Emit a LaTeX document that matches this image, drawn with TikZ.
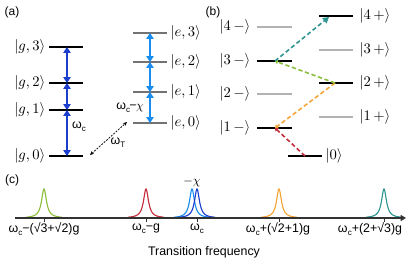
\documentclass[tikz,border=0pt]{standalone}
\usepackage{fontspec}
\newfontfamily\lsans{Liberation Sans}
\usetikzlibrary{arrows.meta}
\definecolor{dblue}{RGB}{28,62,205}
\definecolor{lblue}{RGB}{25,140,240}
\definecolor{cred}{RGB}{195,45,60}
\definecolor{corange}{RGB}{245,165,55}
\definecolor{cgreen}{RGB}{140,190,60}
\definecolor{cteal}{RGB}{45,150,145}
\definecolor{lgray}{RGB}{178,178,178}
\definecolor{egray}{RGB}{115,115,115}
\definecolor{axgray}{RGB}{50,50,50}
\newcommand{\wsub}[1]{ω\kern0.1pt\raisebox{-0.45ex}{\fontsize{6}{6}\selectfont #1}}
\newcommand{\lorpeak}[2]{\draw[#2, line width=0.85pt, domain=-18:18, samples=91, smooth] plot ({#1+\x}, {218 - 29*9/((\x)*(\x)+9)});}
\begin{document}
\begin{tikzpicture}[x=0.75pt,y=-0.75pt,
  glev/.style={black, line width=1.1pt},
  elev/.style={egray, line width=1.1pt},
  blk/.style={black, line width=1.1pt},
  gry/.style={lgray, line width=1.1pt},
  darr/.style={dblue, line width=1.8pt, {Triangle[length=4.4pt,width=5.4pt]}-{Triangle[length=4.4pt,width=5.4pt]}},
  larr/.style={lblue, line width=1.8pt, {Triangle[length=4.4pt,width=5.4pt]}-{Triangle[length=4.4pt,width=5.4pt]}},
  ladder/.style={line width=1.2pt, dash pattern=on 3.2pt off 2pt},
  bigtip/.style={-{Triangle[length=4.5pt,width=5pt]}},
  smalltip/.style={-{Triangle[length=2.2pt,width=3.4pt]}},
  wtarr/.style={black, line width=0.55pt, dash pattern=on 1.5pt off 0.9pt, {Stealth[length=3pt,width=2.6pt]}-{Stealth[length=3pt,width=2.6pt]}},
  ket/.style={font=\fontsize{10.5}{12}\selectfont, inner sep=1pt},
  slab/.style={font=\lsans\fontsize{9.3}{11}\selectfont, inner sep=1pt},
  plab/.style={font=\lsans\fontsize{9}{11}\selectfont, inner sep=1pt},
  tick/.style={axgray, line width=0.6pt}
]
\useasboundingbox (0,0) rectangle (407,260);

% ---------- panel (a)
\node[plab] (la) at (12,12) {(a)};
\foreach \n/\y in {3/47,2/83,1/110,0/156}{
  \coordinate (gl\n) at (49,\y);
  \coordinate (gr\n) at (83,\y);
  \coordinate (g\n) at (67,\y);
  \draw[glev] (gl\n) -- (gr\n);
  \node[ket, anchor=east] (kg\n) at (47,\y) {$|g,\n\rangle$};
}
\foreach \n/\y in {3/33,2/62,1/92,0/123}{
  \coordinate (el\n) at (133,\y);
  \coordinate (er\n) at (167,\y);
  \coordinate (e\n) at (150,\y);
  \draw[elev] (el\n) -- (er\n);
  \node[ket, anchor=west] (ke\n) at (169,\y) {$|e,\n\rangle$};
}
\draw[darr] (g0) -- (g1);
\draw[darr] (g1) -- (g2);
\draw[darr] (g2) -- (g3);
\draw[larr] (e0) -- (e1);
\draw[larr] (e1) -- (e2);
\draw[larr] (e2) -- (e3);
\node[slab] (wc) at (79,127) {\wsub{c}};
\node[slab] (wcx) at (130,108) {\wsub{c}\kern-0.5pt−\kern-0.5pt$\chi$};
\coordinate (wtA) at (90,155);
\coordinate (wtB) at (127,122);
\draw[wtarr] (wtA) -- (wtB);
\node[slab] (wt) at (118,143) {\wsub{T}};

% ---------- panel (b)
\node[plab] (lb) at (213,12) {(b)};
\foreach \n/\y/\s in {4/27/gry,3/61/blk,2/94/gry,1/128/blk}{
  \coordinate (ml\n) at (257,\y);
  \coordinate (mr\n) at (292,\y);
  \coordinate (m\n) at (275,\y);
  \draw[\s] (ml\n) -- (mr\n);
  \node[ket, anchor=east] (km\n) at (252,\y) {$|\n\,-\rangle$};
}
\foreach \n/\y/\s in {4/16/blk,3/50/gry,2/83/blk,1/117/gry}{
  \coordinate (pl\n) at (319,\y);
  \coordinate (pr\n) at (353,\y);
  \draw[\s] (pl\n) -- (pr\n);
  \node[ket, anchor=west] (kp\n) at (358,\y) {$|\n\,+\rangle$};
}
\coordinate (zl) at (288,156);
\coordinate (zr) at (322,156);
\draw[blk] (zl) -- (zr);
\node[ket, anchor=west] (kz) at (324,156) {$|0\rangle$};
\coordinate (z0) at (305,156);
\coordinate (p2) at (335,83);
\coordinate (p4) at (329,17);
\draw[ladder, smalltip, cred] (z0) -- (m1);
\draw[ladder, smalltip, corange] (p2) -- (m1);
\draw[ladder, smalltip, cgreen] (p2) -- (m3);
\draw[ladder, bigtip, cteal] (m3) -- (p4);

% ---------- panel (c)
\node[plab] (lc) at (12,180) {(c)};
\lorpeak{44}{cgreen}
\lorpeak{146}{cred}
\lorpeak{192}{lblue}
\lorpeak{197}{dblue}
\lorpeak{279}{corange}
\lorpeak{384}{cteal}
\coordinate (ax0) at (15,218);
\coordinate (ax1) at (406,218);
\draw[axgray, line width=1.4pt, -{Triangle[length=4pt,width=4.5pt]}] (ax0) -- (ax1);
\foreach \xx in {44,146,197,279,384}{
  \draw[tick] (\xx,218) -- (\xx,221.5);
}
\node[font=\fontsize{9.5}{11}\selectfont, inner sep=1pt] (mchi) at (192,182) {$-\chi$};
\node[slab] (t1) at (44,229) {\wsub{c}−(√3+√2)g};
\node[slab] (t2) at (146,229) {\wsub{c}−g};
\node[slab] (t3) at (197,229) {\wsub{c}};
\node[slab] (t4) at (278,229) {\wsub{c}+(√2+1)g};
\node[slab] (t5) at (370,229) {\wsub{c}+(2+√3)g};
\node[slab] (xl) at (204,252) {Transition frequency};
\end{tikzpicture}
\end{document}
